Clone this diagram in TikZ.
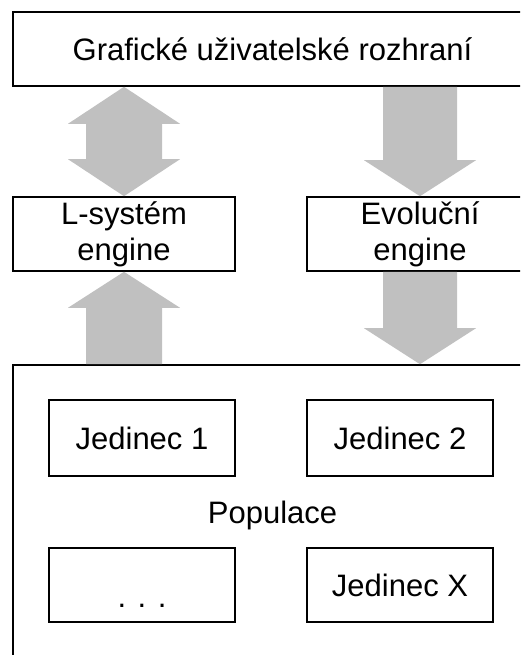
\documentclass[tikz,border=0pt]{standalone}
\usepackage{fontspec}
\setmainfont{Liberation Sans}
\usetikzlibrary{calc}
\definecolor{arrgray}{HTML}{C0C0C0}
\tikzset{
  box/.style={draw=black, line width=1.6pt, rectangle, inner sep=0pt, align=center,
    font=\fontsize{31}{36}\selectfont},
  arr/.style={fill=arrgray, draw=none},
  downarrow/.style={to path={let \p1=(\tikztostart), \p2=(\tikztotarget) in
    (\x1-37pt,\y1) -- (\x1+37pt,\y1) -- (\x1+37pt,\y2+36pt) -- (\x1+56pt,\y2+36pt)
    -- (\x2,\y2) -- (\x1-56pt,\y2+36pt) -- (\x1-37pt,\y2+36pt) -- cycle}},
  uparrow/.style={to path={let \p1=(\tikztostart), \p2=(\tikztotarget) in
    (\x1-38pt,\y1) -- (\x1+38pt,\y1) -- (\x1+38pt,\y2-36pt) -- (\x1+56pt,\y2-36pt)
    -- (\x2,\y2) -- (\x1-56pt,\y2-36pt) -- (\x1-38pt,\y2-36pt) -- cycle}},
  botharrow/.style={to path={let \p1=(\tikztostart), \p2=(\tikztotarget) in
    (\x1,\y1) -- (\x1+56pt,\y1-37pt) -- (\x1+38pt,\y1-37pt) -- (\x1+38pt,\y2+37pt)
    -- (\x1+56pt,\y2+37pt) -- (\x2,\y2) -- (\x1-56pt,\y2+37pt) -- (\x1-38pt,\y2+37pt)
    -- (\x1-38pt,\y1-37pt) -- (\x1-56pt,\y1-37pt) -- cycle}}
}
\begin{document}
\begin{tikzpicture}[x=1pt,y=-1pt]
\useasboundingbox (0,0) rectangle (520,655);
\clip (0,0) rectangle (520,655);
\fill[white] (0,0) rectangle (520,655);
\node[box, minimum width=519pt, minimum height=74pt] (gui) at (272.5,49) {Grafické uživatelské rozhraní};
\node[box, minimum width=222pt, minimum height=74pt] (lsys) at (124,234) {L-systém\\engine};
\node[box, minimum width=226pt, minimum height=74pt] (evo) at (420,234) {Evoluční\\engine};
\node[box, minimum width=519pt, minimum height=300pt] (pop) at (272.5,515) {Populace};
\node[box, minimum width=186pt, minimum height=76pt] (j1) at (142,438) {Jedinec 1};
\node[box, minimum width=186pt, minimum height=76pt] (j2) at (400,438) {Jedinec 2};
\node[box, minimum width=186pt, minimum height=74pt, text height=44pt, text depth=0pt] (jd) at (142,585) {. . .};
\node[box, minimum width=186pt, minimum height=74pt] (jx) at (400,585) {Jedinec X};
\fill[arr] (lsys.north |- gui.south) to[botharrow] (lsys.north);
\fill[arr] (evo.north |- gui.south) to[downarrow] (evo.north);
\fill[arr] (lsys.south |- pop.north) to[uparrow] (lsys.south);
\fill[arr] (evo.south) to[downarrow] (evo.south |- pop.north);
\end{tikzpicture}
\end{document}
